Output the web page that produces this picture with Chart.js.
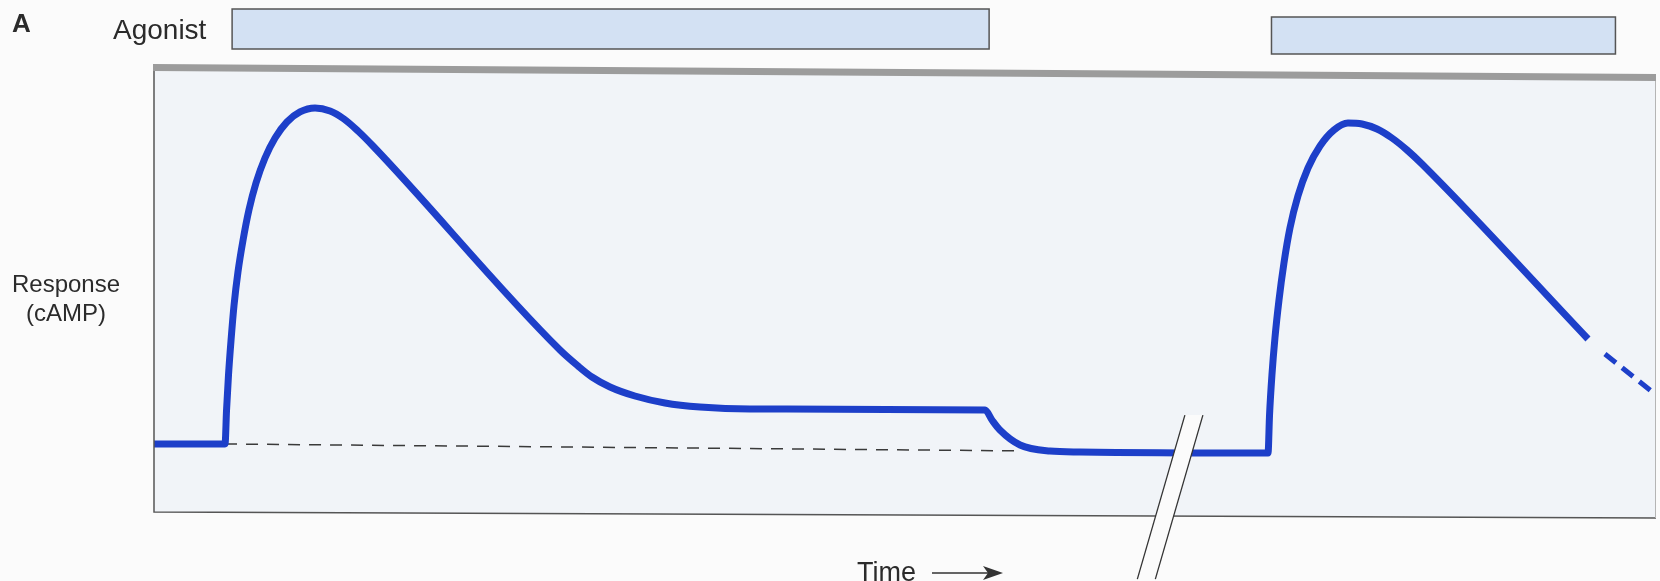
<!DOCTYPE html>
<html>
<head>
<meta charset="utf-8">
<script src="https://cdn.jsdelivr.net/npm/chart.js@4"></script>
<style>
  body { margin: 0; background: #fbfbfb; overflow: hidden; }
  #wrap { position: relative; width: 1660px; height: 581px; }
  .lbl { position: absolute; font-family: "Liberation Sans", Arial, Helvetica, sans-serif; color: #2b2b2b; white-space: nowrap; }
</style>
</head>
<body>
<div id="wrap">
  <canvas id="chart" width="1660" height="581"></canvas>
  <div class="lbl" style="left:12px;top:10px;font-size:26px;line-height:26px;font-weight:bold;">A</div>
  <div class="lbl" style="left:113px;top:16px;font-size:28px;line-height:28px;">Agonist</div>
  <div class="lbl" style="left:1px;top:269px;width:130px;text-align:center;font-size:24px;line-height:29px;">Response<br>(cAMP)</div>
  <div class="lbl" style="left:857px;top:559px;font-size:27px;line-height:27px;">Time</div>
</div>
<script>
// time axis runs 0..100 across the panel, response 0..100 bottom to top
const respTime = [0, 4.73, 4.83, 4.96, 5.13, 5.33, 5.59, 5.93, 6.32, 6.79, 7.39, 8.06, 8.85, 9.72, 10.72,
  11.72, 12.65, 13.58, 14.58, 27.03, 28.23, 29.16, 30.36, 32.02, 34.02, 36.35, 39.68, 55.33,
  55.79, 56.32, 57.66, 59.65, 61.65, 74.17,
  74.27, 74.43, 74.63, 74.90, 75.23, 75.63, 76.16, 76.83, 77.63, 78.56, 79.49,
  80.43, 81.43, 82.42, 83.42, 84.42, 95.47];
const respValue = [16.44, 16.44, 24.10, 31.98, 39.86, 47.75, 55.18, 62.39, 69.14, 75.23, 80.86, 85.36, 88.96, 91.22, 92.12,
  91.44, 89.64, 86.94, 83.56, 37.61, 34.01, 31.53, 29.28, 27.25, 25.68, 24.77, 24.32, 24.10,
  21.85, 19.59, 16.22, 14.86, 14.64, 14.41,
  22.97, 31.98, 40.32, 48.87, 57.21, 65.09, 72.30, 78.60, 83.56, 87.16, 88.74,
  88.51, 87.39, 85.36, 82.66, 79.50, 40.09];

// continuation of the second decline (dashed)
const tailTime = [96.60, 99.67];
const tailValue = [36.7, 28.4];

// resting level (dashed reference line)
const baseTime = [4.73, 57.36];
const baseValue = [16.44, 14.9];

// agonist applied
const agonistOn = [5.2, 74.4];
const agonistOff = [55.6, 97.3];

// axis break
const breakAt = 68.5;
const breakLevel = 14.4;

const toPoints = (xs, ys) => xs.map((x, i) => ({ x, y: ys[i] }));

const BLUE = '#1d3fc9';

const figurePlugin = {
    id: 'figure',
    beforeDatasetsDraw(chart) {
        const { ctx, chartArea: a, scales } = chart;
        ctx.save();
        // panel (scan is slightly tilted)
        ctx.fillStyle = '#f1f4f8';
        ctx.beginPath();
        ctx.moveTo(a.left, a.top - 3);
        ctx.lineTo(a.right, a.top + 7);
        ctx.lineTo(a.right, a.bottom + 1);
        ctx.lineTo(a.left, a.bottom - 5);
        ctx.closePath();
        ctx.fill();

        // agonist bars
        const barY = [[9, 49], [17, 54]];
        agonistOn.forEach((on, i) => {
            const x0 = scales.x.getPixelForValue(on);
            const x1 = scales.x.getPixelForValue(agonistOff[i]);
            ctx.fillStyle = '#d3e1f3';
            ctx.fillRect(x0, barY[i][0], x1 - x0, barY[i][1] - barY[i][0]);
            ctx.strokeStyle = '#555';
            ctx.lineWidth = 1.5;
            ctx.strokeRect(x0, barY[i][0], x1 - x0, barY[i][1] - barY[i][0]);
        });
        ctx.restore();
    },
    afterDatasetsDraw(chart) {
        const { ctx, chartArea: a, scales } = chart;
        ctx.save();
        // frame
        ctx.strokeStyle = '#555';
        ctx.lineWidth = 1.5;
        ctx.beginPath();
        ctx.moveTo(a.left, a.top - 6);
        ctx.lineTo(a.left, a.bottom - 5);
        ctx.lineTo(a.right, a.bottom + 1);
        ctx.stroke();
        ctx.strokeStyle = '#b5b5b5';
        ctx.lineWidth = 1;
        ctx.beginPath();
        ctx.moveTo(a.right - 0.5, a.top + 7);
        ctx.lineTo(a.right - 0.5, a.bottom + 1);
        ctx.stroke();
        ctx.strokeStyle = '#9c9c9c';
        ctx.lineWidth = 7;
        ctx.beginPath();
        ctx.moveTo(a.left - 1, a.top - 5.5);
        ctx.lineTo(a.right, a.top + 4.5);
        ctx.stroke();

        // break marks
        const cx = scales.x.getPixelForValue(breakAt);
        const cy = scales.y.getPixelForValue(breakLevel);
        const k = -0.29, half = 9, up = 38, down = 126;
        const px = (off, dy) => cx + off + k * dy;
        ctx.fillStyle = '#fbfbfb';
        ctx.beginPath();
        ctx.moveTo(px(-half, -up), cy - up);
        ctx.lineTo(px(half, -up), cy - up);
        ctx.lineTo(px(half, down), cy + down);
        ctx.lineTo(px(-half, down), cy + down);
        ctx.closePath();
        ctx.fill();
        ctx.strokeStyle = '#333';
        ctx.lineWidth = 1.3;
        [-half, half].forEach(off => {
            ctx.beginPath();
            ctx.moveTo(px(off, -up), cy - up);
            ctx.lineTo(px(off, down), cy + down);
            ctx.stroke();
        });

        // time arrow
        ctx.strokeStyle = '#333';
        ctx.fillStyle = '#333';
        ctx.lineWidth = 1.5;
        ctx.beginPath();
        ctx.moveTo(932, 573);
        ctx.lineTo(990, 573);
        ctx.stroke();
        ctx.beginPath();
        ctx.moveTo(1003, 573);
        ctx.lineTo(983, 566);
        ctx.lineTo(988, 573);
        ctx.lineTo(983, 580);
        ctx.closePath();
        ctx.fill();
        ctx.restore();
    }
};

new Chart(document.getElementById('chart'), {
    type: 'line',
    data: {
        datasets: [
            { data: toPoints(respTime, respValue), borderColor: BLUE, borderWidth: 7,
              cubicInterpolationMode: 'monotone', borderJoinStyle: 'round', pointRadius: 0, order: 0 },
            { data: toPoints(tailTime, tailValue), borderColor: BLUE, borderWidth: 5,
              borderDash: [14, 8], pointRadius: 0, order: 0 },
            { data: toPoints(baseTime, baseValue), borderColor: '#3a3a3a', borderWidth: 1.5,
              borderDash: [12, 9], pointRadius: 0, order: 1 }
        ]
    },
    options: {
        responsive: false,
        animation: false,
        devicePixelRatio: 1,
        layout: { padding: { left: 154, right: 4, top: 73, bottom: 64 } },
        scales: {
            x: { type: 'linear', min: 0, max: 100, display: false },
            y: { min: 0, max: 100, display: false }
        },
        plugins: { legend: { display: false }, tooltip: { enabled: false } }
    },
    plugins: [figurePlugin]
});
</script>
</body>
</html>
